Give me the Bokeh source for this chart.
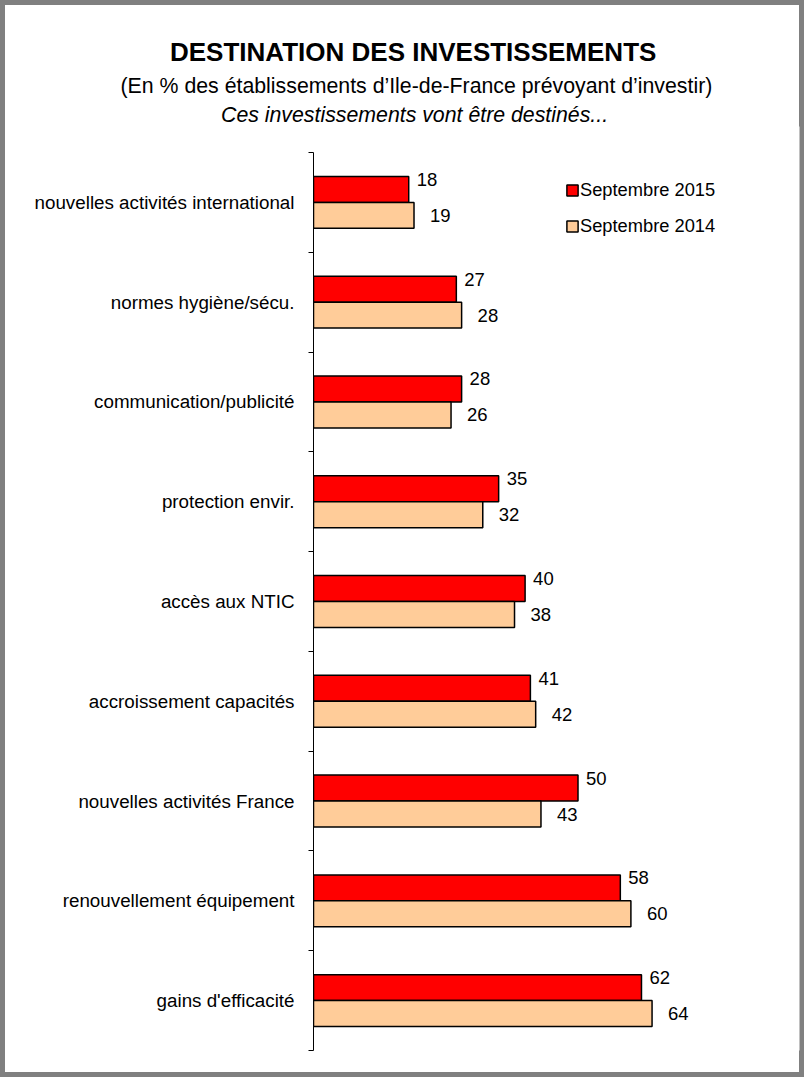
from bokeh.plotting import figure
from bokeh.models import Range1d, FixedTicker, Title, Legend, LegendItem
from bokeh.embed import file_html
from bokeh.resources import INLINE
from bokeh.core.properties import value

# ---- data ----
categories = [
    "nouvelles activités international",
    "normes hygiène/sécu.",
    "communication/publicité",
    "protection envir.",
    "accès aux NTIC",
    "accroissement capacités",
    "nouvelles activités France",
    "renouvellement équipement",
    "gains d'efficacité",
]
sept_2015 = [18, 27, 28, 35, 40, 41, 50, 58, 62]
sept_2014 = [19, 28, 26, 32, 38, 42, 43, 60, 64]
series_names = ["Septembre 2015", "Septembre 2014"]
title_text = "DESTINATION DES INVESTISSEMENTS"
subtitle_text = "(En % des établissements d\u2019Ile-de-France prévoyant d\u2019investir)"
subtitle2_text = "Ces investissements vont être destinés..."

# ---- layout / style ----
W, H = 804, 1077
FONT = "Liberation Sans"
FRAME_LEFT, FRAME_TOP, AXIS_TOP, AXIS_BOTTOM = 313, 126, 152, 1050
n = len(categories)
px_per_cat = (AXIS_BOTTOM - AXIS_TOP) / n
y_top = -(AXIS_TOP - FRAME_TOP) / px_per_cat

centers = [i + 0.5 for i in range(n)]
bar_h = 0.26
y2015 = [c - bar_h / 2 for c in centers]
y2014 = [c + bar_h / 2 for c in centers]

p = figure(width=W, height=H, output_backend="svg", toolbar_location=None,
           x_range=Range1d(0, (W - 5 - FRAME_LEFT) / 5.29),
           y_range=Range1d(n, y_top),
           x_axis_location=None,
           min_border_left=FRAME_LEFT, min_border_top=FRAME_TOP,
           min_border_bottom=H - AXIS_BOTTOM, min_border_right=5)
p.outline_line_color = None
p.grid.visible = False
p.background_fill_color = "white"
p.border_fill_alpha = 0
p.styles = {"outline": "5px solid #808080", "outline-offset": "-5px"}

yax = p.yaxis[0]
yax.bounds = (0, n)
yax.ticker = FixedTicker(ticks=centers, minor_ticks=list(range(n + 1)))
yax.major_label_overrides = {c: cat for c, cat in zip(centers, categories)}
yax.major_tick_line_color = None
yax.major_tick_out = 0
yax.major_tick_in = 0
yax.minor_tick_out = 5
yax.minor_tick_in = 0
yax.minor_tick_line_color = "black"
yax.axis_line_color = "black"
yax.axis_line_width = 1
yax.major_label_standoff = 14
yax.major_label_text_font = FONT
yax.major_label_text_font_size = "18.8px"
yax.major_label_text_color = "black"

r15 = p.hbar(y=y2015, left=0, right=sept_2015, height=bar_h,
             fill_color="#FF0000", line_color="black", line_width=1.5)
r14 = p.hbar(y=y2014, left=0, right=sept_2014, height=bar_h,
             fill_color="#FFCC99", line_color="black", line_width=1.5)

p.text(x=sept_2015, y=y2015, text=[str(v) for v in sept_2015],
       x_offset=8, y_offset=-10, text_font=value(FONT), text_font_size="18.5px",
       text_baseline="middle", text_align="left", text_color="black")
p.text(x=sept_2014, y=y2014, text=[str(v) for v in sept_2014],
       x_offset=16, y_offset=0, text_font=value(FONT), text_font_size="18.5px",
       text_baseline="middle", text_align="left", text_color="black")

legend = Legend(items=[LegendItem(label=series_names[0], renderers=[r15]),
                       LegendItem(label=series_names[1], renderers=[r14])],
                location=(252, 813.5), glyph_width=14, glyph_height=14,
                label_height=20, spacing=14, padding=0, margin=0,
                border_line_color=None, background_fill_alpha=0,
                label_text_font=FONT, label_text_font_size="18.3px",
                label_text_color="black", label_standoff=1)
p.add_layout(legend)

# titles: first added sits closest to the plot frame; offsets are from frame left
p.add_layout(Title(text=subtitle2_text, align="left", offset=220.5 - FRAME_LEFT,
                   standoff=0, text_font=FONT, text_font_size="21.3px",
                   text_font_style="italic", text_color="black"), "above")
p.add_layout(Title(text=subtitle_text, align="left", offset=120 - FRAME_LEFT,
                   standoff=6, text_font=FONT, text_font_size="21.3px",
                   text_font_style="normal", text_color="black"), "above")
p.add_layout(Title(text=title_text, align="left", offset=169.5 - FRAME_LEFT,
                   standoff=3, text_font=FONT, text_font_size="26px",
                   text_font_style="bold", text_color="black"), "above")

open("out.html", "w").write(file_html(p, INLINE))
